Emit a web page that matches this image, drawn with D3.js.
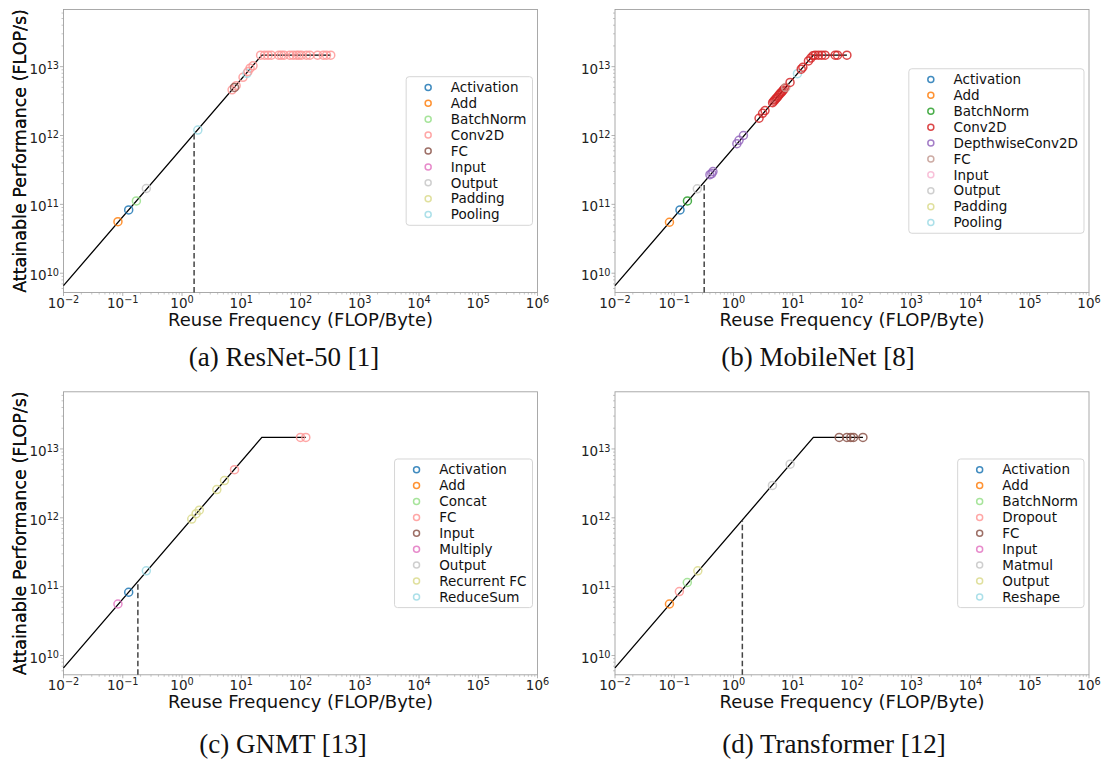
<!DOCTYPE html>
<html>
<head>
<meta charset="utf-8">
<script src="https://cdn.jsdelivr.net/npm/d3@7"></script>
<style>
  body { margin: 0; background: #fff; }
  text { font-family: "DejaVu Sans", sans-serif; }
</style>
</head>
<body>
<div id="chart"></div>
<script>
// roofline parameters
const bandwidth = 6.6e11;
const peakPerf = 1.47e13;

const xTickExp = [-2, -1, 0, 1, 2, 3, 4, 5, 6];
const yTickExp = [10, 11, 12, 13];

// (a) ResNet-50
const resnetTypes = ["Activation", "Add", "BatchNorm", "Conv2D", "FC", "Input", "Output", "Padding", "Pooling"];
const resnetPoints = [
  ["Add", 0.083, 5.6e10], ["Activation", 0.126, 8.3e10], ["BatchNorm", 0.17, 1.12e11],
  ["Output", 0.25, 1.7e11], ["Pooling", 1.85, 1.2e12],
  ["Conv2D", 7.0, 4.6e12], ["Conv2D", 8.2, 5.3e12], ["FC", 7.7, 5.0e12],
  ["Conv2D", 10.7, 7.0e12], ["Pooling", 12.5, 8.0e12], ["Conv2D", 13.0, 8.5e12],
  ["Conv2D", 14.1, 9.5e12], ["Conv2D", 15.8, 1.03e13],
  ["Conv2D", 21.2, 1.47e13], ["Conv2D", 24.8, 1.47e13], ["Conv2D", 28.3, 1.47e13],
  ["Conv2D", 32.2, 1.47e13], ["Conv2D", 43, 1.47e13], ["Conv2D", 47.6, 1.47e13],
  ["Conv2D", 52.9, 1.47e13], ["Conv2D", 65.9, 1.47e13], ["Conv2D", 75, 1.47e13],
  ["Conv2D", 85.5, 1.47e13], ["Conv2D", 93.7, 1.47e13], ["Conv2D", 104, 1.47e13],
  ["Conv2D", 126, 1.47e13], ["Conv2D", 144, 1.47e13], ["Conv2D", 194, 1.47e13],
  ["Conv2D", 242, 1.47e13], ["Conv2D", 275, 1.47e13], ["Conv2D", 324, 1.47e13]
];

// (b) MobileNet
const mobilenetTypes = ["Activation", "Add", "BatchNorm", "Conv2D", "DepthwiseConv2D", "FC", "Input", "Output", "Padding", "Pooling"];
const mobilenetPoints = [
  ["Add", 0.083, 5.5e10], ["Activation", 0.125, 8.3e10], ["BatchNorm", 0.167, 1.12e11],
  ["Output", 0.245, 1.68e11],
  ["DepthwiseConv2D", 0.40, 2.7e11], ["DepthwiseConv2D", 0.43, 2.8e11], ["DepthwiseConv2D", 0.45, 3.0e11],
  ["DepthwiseConv2D", 1.14, 7.6e11], ["DepthwiseConv2D", 1.24, 8.5e11], ["DepthwiseConv2D", 1.47, 1.0e12],
  ["Conv2D", 2.7, 1.78e12], ["Conv2D", 3.1, 2.1e12], ["Conv2D", 3.4, 2.3e12],
  ["Conv2D", 4.57, 3.0e12], ["Conv2D", 4.79, 3.15e12], ["Conv2D", 5.01, 3.3e12],
  ["Conv2D", 5.25, 3.45e12], ["Conv2D", 5.5, 3.6e12], ["Conv2D", 5.75, 3.8e12],
  ["Conv2D", 6.03, 4.0e12], ["Conv2D", 6.31, 4.15e12], ["Conv2D", 6.61, 4.35e12],
  ["Conv2D", 6.92, 4.55e12], ["Conv2D", 7.24, 4.8e12], ["FC", 7.6, 5.0e12],
  ["Conv2D", 9.0, 5.9e12], ["Pooling", 12.0, 7.9e12], ["Conv2D", 13.9, 9.2e12],
  ["Conv2D", 14.8, 9.8e12], ["Conv2D", 18.4, 1.21e13], ["Conv2D", 20.2, 1.33e13],
  ["Conv2D", 21.9, 1.44e13], ["Conv2D", 23.9, 1.47e13], ["Conv2D", 27.2, 1.47e13],
  ["Conv2D", 30.9, 1.47e13], ["Conv2D", 35.2, 1.47e13], ["Conv2D", 52, 1.47e13],
  ["Conv2D", 56.9, 1.47e13], ["Conv2D", 82, 1.47e13]
];

// (c) GNMT
const gnmtTypes = ["Activation", "Add", "Concat", "FC", "Input", "Multiply", "Output", "Recurrent FC", "ReduceSum"];
const gnmtPoints = [
  ["Multiply", 0.083, 5.6e10], ["Activation", 0.126, 8.3e10], ["ReduceSum", 0.25, 1.7e11],
  ["Recurrent FC", 1.46, 9.6e11], ["Recurrent FC", 1.73, 1.15e12], ["Recurrent FC", 1.96, 1.29e12],
  ["Recurrent FC", 3.87, 2.57e12], ["Recurrent FC", 5.21, 3.47e12],
  ["FC", 7.7, 5.0e12], ["FC", 100, 1.47e13], ["FC", 123, 1.47e13]
];

// (d) Transformer
const transformerTypes = ["Activation", "Add", "BatchNorm", "Dropout", "FC", "Input", "Matmul", "Output", "Reshape"];
const transformerPoints = [
  ["Add", 0.083, 5.6e10], ["Dropout", 0.122, 8.5e10], ["BatchNorm", 0.166, 1.15e11],
  ["Output", 0.25, 1.7e11], ["Matmul", 4.54, 2.95e12], ["Matmul", 9.04, 6.0e12],
  ["FC", 60.8, 1.47e13], ["FC", 82, 1.47e13], ["FC", 95.5, 1.47e13],
  ["FC", 106, 1.47e13], ["FC", 153, 1.47e13]
];

const dashX = { a: 1.6, b: 0.32, c: 0.18, d: 1.41 };

const tab20 = ["#1f77b4","#aec7e8","#ff7f0e","#ffbb78","#2ca02c","#98df8a","#d62728","#ff9896",
  "#9467bd","#c5b0d5","#8c564b","#c49c94","#e377c2","#f7b6d2","#7f7f7f","#c7c7c7",
  "#bcbd22","#dbdb8d","#17becf","#9edae5"];

const panels = [
  { id: "a", types: resnetTypes, points: resnetPoints, left: 63.5, top: 9.5, caption: "(a) ResNet-50 [1]", capX: 284, capY: 366 },
  { id: "b", types: mobilenetTypes, points: mobilenetPoints, left: 615, top: 9.5, caption: "(b) MobileNet [8]", capX: 818, capY: 366 },
  { id: "c", types: gnmtTypes, points: gnmtPoints, left: 63.5, top: 391.8, caption: "(c) GNMT [13]", capX: 283, capY: 753 },
  { id: "d", types: transformerTypes, points: transformerPoints, left: 615, top: 391.8, caption: "(d) Transformer [12]", capX: 834, capY: 753 }
];

const pw = 474, ph = 283;
const spineColor = "#a0a0a0";

const svg = d3.select("#chart").append("svg")
  .attr("width", 1106)
  .attr("height", 765);

function sup(sel, exp) {
  sel.append("tspan").text("10");
  sel.append("tspan")
    .attr("dy", "-0.45em")
    .attr("font-size", "0.72em")
    .text(String(exp).replace("-", "\u2212"));
}

panels.forEach(function(p) {
  const g = svg.append("g")
    .attr("transform", "translate(" + p.left + "," + p.top + ")");

  const x = d3.scaleLog().domain([1e-2, 1e6]).range([0, pw]);
  const y = d3.scaleLog().domain([Math.pow(10, 9.72), Math.pow(10, 13.83)]).range([ph, 0]);

  // minor ticks
  const xMinor = [], yMinor = [];
  for (let k = -2; k < 6; k++) for (let m = 2; m < 10; m++) xMinor.push(m * Math.pow(10, k));
  for (let k = 9; k < 14; k++) for (let m = 2; m < 10; m++) {
    const v = m * Math.pow(10, k);
    if (v > y.domain()[0] && v < y.domain()[1]) yMinor.push(v);
  }
  g.selectAll(".xminor").data(xMinor).enter().append("line")
    .attr("x1", d => x(d)).attr("x2", d => x(d))
    .attr("y1", ph).attr("y2", ph + 2)
    .attr("stroke", spineColor).attr("stroke-width", 0.6);
  g.selectAll(".yminor").data(yMinor).enter().append("line")
    .attr("y1", d => y(d)).attr("y2", d => y(d))
    .attr("x1", 0).attr("x2", -2)
    .attr("stroke", spineColor).attr("stroke-width", 0.6);

  // major ticks + labels
  g.selectAll(".xmaj").data(xTickExp).enter().append("line")
    .attr("x1", d => x(Math.pow(10, d))).attr("x2", d => x(Math.pow(10, d)))
    .attr("y1", ph).attr("y2", ph + 3.5)
    .attr("stroke", spineColor).attr("stroke-width", 0.8);
  g.selectAll(".xlab").data(xTickExp).enter().append("text")
    .attr("x", d => x(Math.pow(10, d)))
    .attr("y", ph + 15)
    .attr("text-anchor", "middle")
    .attr("font-size", 13.5)
    .attr("fill", "#222")
    .each(function(d) { sup(d3.select(this), d); });

  g.selectAll(".ymaj").data(yTickExp).enter().append("line")
    .attr("y1", d => y(Math.pow(10, d))).attr("y2", d => y(Math.pow(10, d)))
    .attr("x1", 0).attr("x2", -3.5)
    .attr("stroke", spineColor).attr("stroke-width", 0.8);
  g.selectAll(".ylab").data(yTickExp).enter().append("text")
    .attr("x", -4.5)
    .attr("y", d => y(Math.pow(10, d)) + 7)
    .attr("text-anchor", "end")
    .attr("font-size", 13.5)
    .attr("fill", "#222")
    .each(function(d) { sup(d3.select(this), d); });

  // frame
  g.append("rect")
    .attr("width", pw).attr("height", ph)
    .attr("fill", "none")
    .attr("stroke", spineColor).attr("stroke-width", 0.9);

  // axis titles
  g.append("text")
    .attr("x", pw / 2).attr("y", ph + 33)
    .attr("text-anchor", "middle")
    .attr("font-size", 18)
    .attr("fill", "#111")
    .text("Reuse Frequency (FLOP/Byte)");
  g.append("text")
    .attr("transform", "translate(" + (-p.left + 25.5) + "," + (ph / 2) + ") rotate(-90)")
    .attr("text-anchor", "middle")
    .attr("font-size", 17.5)
    .attr("fill", "#111")
    .text("Attainable Performance (FLOP/s)");

  // roofline
  const xMax = d3.max(p.points, d => d[1]);
  const roof = [[1e-2, bandwidth * 1e-2], [peakPerf / bandwidth, peakPerf], [xMax, peakPerf]];
  g.append("path")
    .datum(roof)
    .attr("d", d3.line().x(d => x(d[0])).y(d => y(d[1])))
    .attr("fill", "none")
    .attr("stroke", "#000")
    .attr("stroke-width", 1.3);

  // ridge marker (dashed)
  const dx = dashX[p.id];
  g.append("line")
    .attr("x1", x(dx)).attr("x2", x(dx))
    .attr("y1", ph).attr("y2", y(bandwidth * dx))
    .attr("stroke", "#444")
    .attr("stroke-width", 1.5)
    .attr("stroke-dasharray", "5.5,3");

  // colours: tab20 sampled evenly over the categories
  const n = p.types.length;
  const color = d3.scaleOrdinal()
    .domain(p.types)
    .range(p.types.map((t, i) => tab20[Math.min(19, Math.floor(i / (n - 1) * 20))]));

  g.selectAll(".pt").data(p.points).enter().append("circle")
    .attr("cx", d => x(d[1]))
    .attr("cy", d => y(d[2]))
    .attr("r", 4)
    .attr("fill", "none")
    .attr("stroke", d => color(d[0]))
    .attr("stroke-opacity", 0.85)
    .attr("stroke-width", 1.5);

  // legend (center right)
  const rowH = 15.9;
  const lg = g.append("g");
  const box = lg.append("rect")
    .attr("fill", "#fff").attr("fill-opacity", 0.8)
    .attr("stroke", "#d6d6d6").attr("stroke-width", 1)
    .attr("rx", 3);
  const rows = lg.selectAll(".row").data(p.types).enter().append("g")
    .attr("transform", (d, i) => "translate(0," + (i * rowH) + ")");
  rows.append("circle")
    .attr("cx", 22).attr("cy", 0).attr("r", 3)
    .attr("fill", "none")
    .attr("stroke", d => color(d))
    .attr("stroke-opacity", 0.85)
    .attr("stroke-width", 1.5);
  const labels = rows.append("text")
    .attr("x", 44.7).attr("y", 4.7)
    .attr("font-size", 13.5)
    .attr("fill", "#111")
    .text(d => d);
  let maxW = 0;
  labels.each(function() { maxW = Math.max(maxW, this.getComputedTextLength()); });
  const bw = 44.7 + maxW + 6;
  const bh = (n - 1) * rowH + 21.4;
  box.attr("x", 0).attr("y", -10.7).attr("width", bw).attr("height", bh);
  lg.attr("transform", "translate(" + (pw - 5 - bw) + "," + (ph / 2 - bh / 2 + 10.7) + ")");

  // caption
  svg.append("text")
    .attr("x", p.capX)
    .attr("y", p.capY)
    .attr("text-anchor", "middle")
    .style("font-family", "'Liberation Serif', 'Times New Roman', serif")
    .attr("font-size", 27)
    .attr("fill", "#111")
    .text(p.caption);
});
</script>
</body>
</html>
